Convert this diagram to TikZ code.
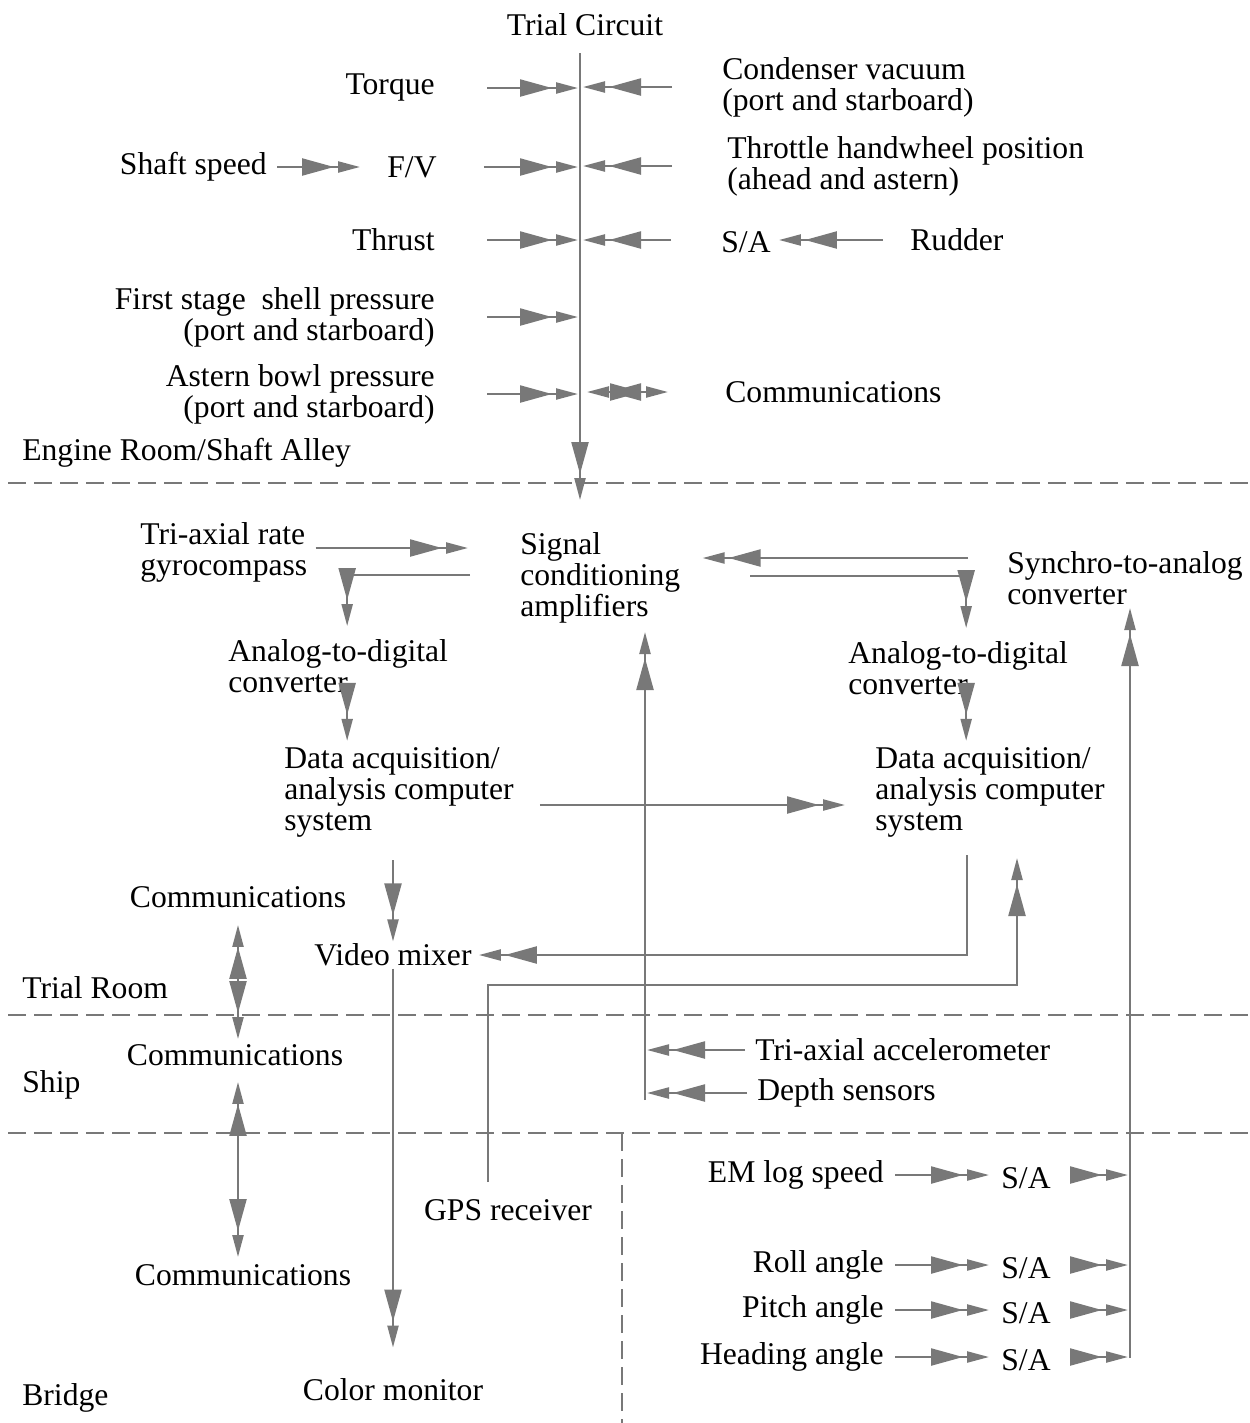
\documentclass[tikz,border=0pt]{standalone}
\usepackage{fontspec}
\setmainfont{Liberation Serif}
\usetikzlibrary{arrows.meta}
\usetikzlibrary{positioning}
\usetikzlibrary{calc}
\definecolor{lgray}{RGB}{120,120,120}

\begin{document}
\begin{tikzpicture} [
       x=0.2mm, y=-0.2mm,
       texte/.style={inner sep=0pt, font=\fontsize{18}{17.6}\selectfont, align=left},
       line/.style = {draw=lgray, line width=0.45mm,
               -{Triangle[length=6.4mm,width=3.4mm,sep=0.8mm] Triangle[length=4.4mm,width=2.2mm]}},
       both/.style = {draw=lgray, line width=0.45mm,
               {Triangle[length=4.4mm,width=2.2mm,sep=0.8mm] Triangle[length=6.4mm,width=3.4mm]}-{Triangle[length=6.4mm,width=3.4mm,sep=0.8mm] Triangle[length=4.4mm,width=2.2mm]}},
       zone/.style = {draw=lgray, line width=0.4mm, dash pattern=on 3.6mm off 1.6mm},
       ]
       \useasboundingbox (0,0) rectangle (1250,1423);

       % engine room / shaft alley
       \node (title) [texte] at (585,25) {Trial Circuit};
       \node (torque) [texte, anchor=east] at (435,88) {Torque};
       \node (condenser) [texte, anchor=west] at (722,87) {Condenser vacuum\\(port and starboard)};
       \node (shaftspeed) [texte, anchor=east] at (267,167) {Shaft speed};
       \node (fv) [texte] at (412,167) {F/V};
       \node (throttle) [texte, anchor=west] at (727,166) {Throttle handwheel position\\(ahead and astern)};
       \node (thrust) [texte, anchor=east] at (435,240) {Thrust};
       \node (sarudder) [texte] at (746,242) {S/A};
       \node (rudder) [texte, anchor=west] at (910,240) {Rudder};
       \node (firststage) [texte, anchor=east, align=right] at (435,317) {First stage\ \ shell pressure\\(port and starboard)};
       \node (asternbowl) [texte, anchor=east, align=right] at (435,394) {Astern bowl pressure\\(port and starboard)};
       \node (commengine) [texte, anchor=west] at (725,392) {Communications};
       \node (engineroom) [texte, anchor=west] at (22,453) {Engine Room/Shaft Alley};
       \coordinate (trunk) at (580,53);
       \coordinate (trunkend) at (580,500);

       % trial room
       \node (gyro) [texte, anchor=west] at (140,552) {Tri-axial rate\\gyrocompass};
       \node (signal) [texte, anchor=west] at (520,578) {Signal\\conditioning\\amplifiers};
       \node (synchro) [texte, anchor=west] at (1007,578) {Synchro-to-analog\\converter};
       \node (adc1) [texte, anchor=west] at (228,666) {Analog-to-digital\\converter};
       \node (adc2) [texte, anchor=west] at (848,668) {Analog-to-digital\\converter};
       \node (daq1) [texte, anchor=west] at (284,792) {Data acquisition/\\analysis computer\\system};
       \node (daq2) [texte, anchor=west] at (875,792) {Data acquisition/\\analysis computer\\system};
       \node (commtrial) [texte] at (238,897) {Communications};
       \node (videomix) [texte] at (393,955) {Video mixer};
       \node (trialroom) [texte, anchor=west] at (22,988) {Trial Room};
       \coordinate (sigout1) at (470,575);
       \coordinate (sigout2) at (750,576);
       \coordinate (daq2out) at (967,855);
       \coordinate (daq2in) at (1017,858);
       \coordinate (gpsbend) at (1017,985);

       % ship
       \node (commship) [texte] at (235,1055) {Communications};
       \node (accel) [texte, anchor=west] at (755,1050) {Tri-axial accelerometer};
       \node (depth) [texte, anchor=west] at (757,1093) {Depth sensors};
       \node (ship) [texte, anchor=west] at (22,1085) {Ship};
       \coordinate (sigin) at (645,632);
       \coordinate (busfoot) at (645,1100);

       % bridge
       \node (gps) [texte] at (508,1210) {GPS receiver};
       \node (commbridge) [texte] at (243,1275) {Communications};
       \node (colormon) [texte] at (393,1390) {Color monitor};
       \node (bridge) [texte, anchor=west] at (22,1398) {Bridge};
       \node (emlog) [texte, anchor=east] at (884,1175) {EM log speed};
       \node (roll) [texte, anchor=east] at (884,1265) {Roll angle};
       \node (pitch) [texte, anchor=east] at (884,1310) {Pitch angle};
       \node (heading) [texte, anchor=east] at (884,1357) {Heading angle};
       \node (saem) [texte] at (1026,1178) {S/A};
       \node (saroll) [texte] at (1026,1268) {S/A};
       \node (sapitch) [texte] at (1026,1313) {S/A};
       \node (saheading) [texte] at (1026,1360) {S/A};
       \coordinate (sabus) at (1130,1358);
       \coordinate (synchroin) at (1130,608);

       % zones
       \draw[zone] (8,483) -- (1250,483);
       \draw[zone] (8,1015) -- (1250,1015);
       \draw[zone] (8,1133) -- (1250,1133);
       \draw[zone] (622,1133) -- (622,1423);

       \begin{scope}[every path/.style=line]
       \path (trunk) -- (trunkend);
       \path[shorten <=10.4mm, shorten >=0.4mm] (torque.east) -- (torque.east -| trunk);
       \path[shorten <=2mm, shorten >=5.4mm] (shaftspeed.east) -- (shaftspeed.east -| fv.west);
       \path[shorten <=9.4mm, shorten >=0.4mm] (fv.east) -- (fv.east -| trunk);
       \path[shorten <=10.4mm, shorten >=0.4mm] (thrust.east) -- (thrust.east -| trunk);
       \path[shorten <=10.4mm, shorten >=0.4mm] (firststage.east) -- (firststage.east -| trunk);
       \path[shorten <=10.4mm, shorten >=0.4mm] (asternbowl.east) -- (asternbowl.east -| trunk);
       \path[shorten <=10mm, shorten >=0.6mm] (condenser.west) -- (condenser.west -| trunk);
       \path[shorten <=11mm, shorten >=0.6mm] (throttle.west) -- (throttle.west -| trunk);
       \path[shorten <=10mm, shorten >=0.6mm] (rudder.west -| sarudder.west) -- (rudder.west -| trunk);
       \path[shorten <=5.4mm, shorten >=1.6mm] (rudder.west) -- (rudder.west -| sarudder.east);
       \path[both, shorten <=0.6mm, shorten >=11.4mm] (commengine.west -| trunk) -- (commengine.west);

       \path[shorten <=1.6mm, shorten >=10.4mm] ([yshift=0.8mm]gyro.east) -- ([yshift=0.8mm]gyro.east -| signal.west);
       \path[shorten >=2.6mm] (sigout1) -| ([xshift=1.8mm]adc1.north);
       \path[shorten >=1.2mm] ([xshift=1.8mm]adc1.south) -- ([xshift=1.8mm]adc1.south |- daq1.north);
       \path[shorten <=7.8mm, shorten >=4.4mm] ([yshift=4mm]synchro.west) -- ([yshift=4mm]synchro.west -| signal.east);
       \path[shorten >=2.6mm] (sigout2) -| ([xshift=1.6mm]adc2.north);
       \path[shorten >=1.2mm] ([xshift=1.6mm]adc2.south) -- ([xshift=1.6mm]adc2.south |- daq2.north);
       \path[shorten <=5.2mm, shorten >=6mm] ([yshift=-2.6mm]daq1.east) -- ([yshift=-2.6mm]daq2.west);
       \path[shorten <=4.6mm, shorten >=0.4mm] (videomix.north |- daq1.south) -- (videomix.north);
       \path[shorten >=1.4mm] (daq2out) |- (videomix.east);
       \path[shorten <=3.4mm] ([xshift=-4mm]gps.north) |- (gpsbend) -- (daq2in);
       \path[shorten <=0.4mm, shorten >=6.2mm] (videomix.south) -- (colormon.north);
       \path[both, shorten <=2.6mm, shorten >=1mm] (commtrial.south) -- (commtrial.south |- commship.north);
       \path[both, shorten <=2.4mm, shorten >=1.4mm] (commtrial.south |- commship.south) -- (commtrial.south |- commbridge.north);

       \path[shorten <=2mm, shorten >=0.4mm] (accel.west) -- (accel.west -| sigin);
       \path[shorten <=2mm, shorten >=0.4mm] (depth.west) -- (depth.west -| sigin);
       \path (busfoot) -- (sigin);

       \path[shorten <=2.2mm, shorten >=2.4mm] (emlog.east) -- (emlog.east -| saem.west);
       \path[shorten <=2.2mm, shorten >=2.4mm] (roll.east) -- (roll.east -| saroll.west);
       \path[shorten <=2.2mm, shorten >=2.4mm] (pitch.east) -- (pitch.east -| sapitch.west);
       \path[shorten <=2.2mm, shorten >=2.4mm] (heading.east) -- (heading.east -| saheading.west);
       \path[shorten <=4.4mm, shorten >=0.4mm] (emlog.east -| saem.east) -- (emlog.east -| sabus);
       \path[shorten <=4.4mm, shorten >=0.4mm] (roll.east -| saroll.east) -- (roll.east -| sabus);
       \path[shorten <=4.4mm, shorten >=0.4mm] (pitch.east -| sapitch.east) -- (pitch.east -| sabus);
       \path[shorten <=4.4mm, shorten >=0.4mm] (heading.east -| saheading.east) -- (heading.east -| sabus);
       \path (sabus) -- (synchroin);
       \end{scope}
\end{tikzpicture}
\end{document}
